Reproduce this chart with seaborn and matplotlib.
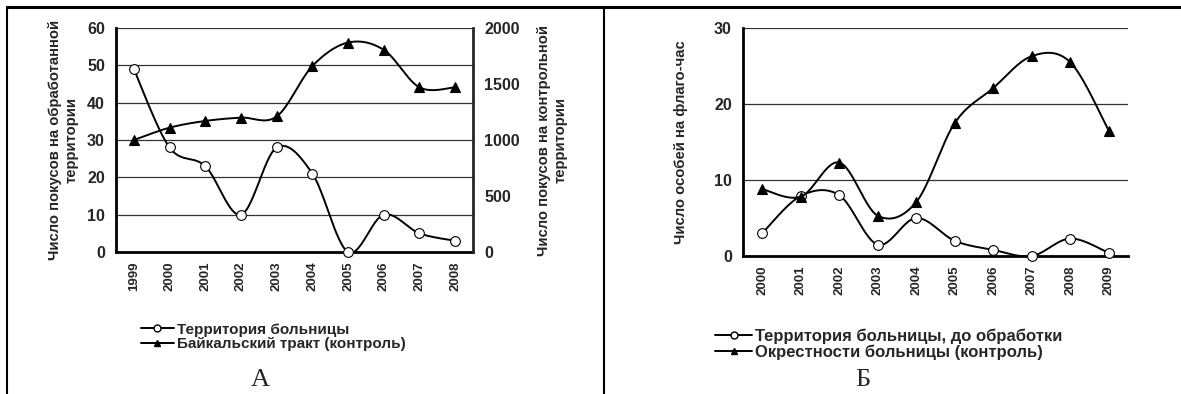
import numpy as np
import pandas as pd
import seaborn as sns
import matplotlib
import matplotlib.pyplot as plt
from matplotlib.lines import Line2D

sns.set_style('white')
matplotlib.rcParams['font.family'] = ['Liberation Sans', 'DejaVu Sans']
matplotlib.rcParams['font.weight'] = 'bold'

# data, panel A
years_a = ['1999', '2000', '2001', '2002', '2003', '2004', '2005', '2006', '2007', '2008']
hospital_a = [49, 28, 23, 10, 28, 21, 0, 10, 5, 3]
baikal_a = [1000, 1110, 1170, 1200, 1210, 1660, 1870, 1805, 1470, 1470]

# data, panel B
years_b = ['2000', '2001', '2002', '2003', '2004', '2005', '2006', '2007', '2008', '2009']
hospital_b = [3.0, 7.9, 8.0, 1.5, 5.0, 2.0, 0.8, 0.0, 2.3, 0.4]
around_b = [8.8, 7.8, 12.3, 5.3, 7.1, 17.5, 22.1, 26.3, 25.5, 16.5]

legend_a = ['Территория больницы', 'Байкальский тракт (контроль)']
legend_b = ['Территория больницы, до обработки', 'Окрестности больницы (контроль)']


def smooth(y, n=30):
    # Excel-like smoothed line (Catmull-Rom through the points)
    y = np.asarray(y, dtype=float)
    x = np.arange(len(y), dtype=float)
    xs, ys = [], []
    for i in range(len(y) - 1):
        i0, i3 = max(i - 1, 0), min(i + 2, len(y) - 1)
        t = np.linspace(0, 1, n)
        for arr, out in ((x, xs), (y, ys)):
            p0, p1, p2, p3 = arr[i0], arr[i], arr[i + 1], arr[i3]
            c1 = p1 + (p2 - p0) / 6
            c2 = p2 - (p3 - p1) / 6
            out.append((1 - t) ** 3 * p1 + 3 * (1 - t) ** 2 * t * c1
                       + 3 * (1 - t) * t ** 2 * c2 + t ** 3 * p2)
    return np.concatenate(xs), np.concatenate(ys)


def draw_series(ax, values, marker, face, z):
    sx, sy = smooth(values)
    sns.lineplot(x=sx, y=sy, ax=ax, color='black', lw=1.4, estimator=None, sort=False, zorder=z)
    ax.plot(np.arange(len(values)), values, ls='none', marker=marker, ms=7 if marker == 'o' else 7.5,
            mfc=face, mec='black', mew=0.8, zorder=z + 1, clip_on=False)


def style_axis(ax, labels):
    n = len(labels)
    ax.set_xlim(-0.5, n - 0.5)
    ax.set_xticks(np.arange(n))
    ax.set_xticklabels(labels, rotation=90, fontsize=9.5, fontweight='bold')
    ax.set_xticks(np.arange(n + 1) - 0.5, minor=True)
    ax.tick_params(axis='x', which='major', length=0, pad=7)
    ax.tick_params(axis='x', which='minor', length=4, width=1.5, direction='in')
    ax.tick_params(axis='y', length=0, labelsize=11.5, pad=8)
    for lab in ax.get_yticklabels():
        lab.set_fontweight('bold')
    for s in ['top', 'right']:
        ax.spines[s].set_visible(False)
    for s in ['left', 'bottom']:
        ax.spines[s].set_linewidth(2)
        ax.spines[s].set_color('black')
    ax.yaxis.grid(True, color='#333333', lw=0.9)
    ax.set_axisbelow(True)


fig = plt.figure(figsize=(11.81, 3.94), dpi=100)

# panel A
ax = fig.add_axes([116 / 1181, 1 - 252 / 394, 357 / 1181, 224 / 394])
ax2 = ax.twinx()
ax.set_ylim(0, 60)
ax.set_yticks(range(0, 61, 10))
ax2.set_ylim(0, 2000)
ax2.set_yticks(range(0, 2001, 500))
style_axis(ax, years_a)
draw_series(ax, hospital_a, 'o', 'white', 3)
draw_series(ax2, baikal_a, '^', 'black', 3)
for s in ['top', 'left', 'bottom']:
    ax2.spines[s].set_visible(False)
ax2.spines['right'].set_linewidth(2)
ax2.tick_params(axis='y', length=0, labelsize=11.5, pad=8)
for lab in ax2.get_yticklabels():
    lab.set_fontweight('bold')
ax.set_ylabel('Число покусов на обработанной\nтерритории', fontsize=10.7, fontweight='bold',
              linespacing=1.2, labelpad=6)
ax2.set_ylabel('Число покусов на контрольной\nтерритории', fontsize=10.7, fontweight='bold',
               rotation=90, linespacing=1.3, labelpad=12)
ax.set_xlabel('')

# panel B
bx = fig.add_axes([743 / 1181, 1 - 256 / 394, 385 / 1181, 228 / 394])
bx.set_ylim(0, 30)
bx.set_yticks(range(0, 31, 10))
style_axis(bx, years_b)
draw_series(bx, hospital_b, 'o', 'white', 3)
draw_series(bx, around_b, '^', 'black', 5)
bx.set_ylabel('Число особей на флаго-час', fontsize=10.7, fontweight='bold', labelpad=19)


def legend_handles():
    return [Line2D([], [], color='black', lw=1.4, marker='o', mfc='white', mec='black', ms=5),
            Line2D([], [], color='black', lw=1.4, marker='^', mfc='black', mec='black', ms=5)]


fig.legend(legend_handles(), legend_a, loc='upper left', bbox_to_anchor=(133 / 1181, 1 - 315 / 394),
           frameon=False, prop={'weight': 'bold', 'size': 11}, handlelength=2.2, handletextpad=0.2,
           labelspacing=0.05, borderpad=0, markerscale=1)
fig.legend(legend_handles(), legend_b, loc='upper left', bbox_to_anchor=(707 / 1181, 1 - 320 / 394),
           frameon=False, prop={'weight': 'bold', 'size': 12}, handlelength=2.2, handletextpad=0.2,
           labelspacing=0.05, borderpad=0, markerscale=1)

fig.text(260 / 1181, 1 - 380 / 394, 'А', family='Liberation Serif', fontweight='normal',
         fontsize=19, ha='center', va='center')
fig.text(863 / 1181, 1 - 380 / 394, 'Б', family='Liberation Serif', fontweight='normal',
         fontsize=19, ha='center', va='center')

# table-like frame
fig.add_artist(Line2D([7 / 1181, 1], [1 - 7 / 394, 1 - 7 / 394], color='black', lw=2.2))
fig.add_artist(Line2D([7 / 1181, 7 / 1181], [0, 1 - 7 / 394], color='black', lw=1.5))
fig.add_artist(Line2D([604 / 1181, 604 / 1181], [0, 1 - 7 / 394], color='black', lw=1.5))

fig.savefig('out.png', dpi=100, facecolor='white')
